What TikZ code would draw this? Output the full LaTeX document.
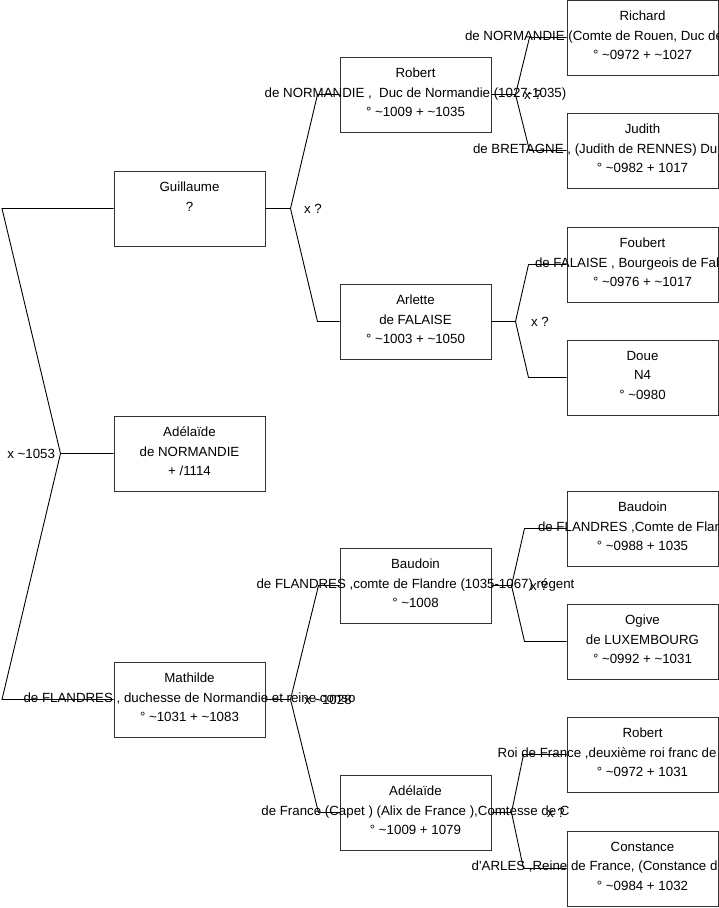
\documentclass[tikz,border=0pt]{standalone}
\usepackage{fontspec}
\setmainfont{Liberation Sans}
\newcommand{\circa}{\textasciitilde}
\newcommand{\cutline}[2]{\makebox[0pt][l]{\hspace*{-#1pt}#2}}

\begin{document}
\begin{tikzpicture}[
x=1pt, y=-1pt,
line width=1pt,
every node/.style={font=\fontsize{13.3}{19.5}\selectfont},
person/.style={draw=black!80, fill=white, minimum width=151pt, minimum height=75pt, inner sep=0pt},
info/.style={anchor=north, align=center, inner sep=0pt, execute at begin node=\strut},
union/.style={inner sep=0pt},
link/.style={draw=black, line width=0.9pt}
]
\useasboundingbox (0,0) rectangle (719,908);
\clip (0,0) rectangle (719,908);

% generation 1
\node[person] (guil) at (189.5,208.5) {};
\node[person] (adel) at (189.5,453.5) {};
\node[person] (math) at (189.5,699.5) {};
% generation 2
\node[person] (rob) at (415.5,94.5) {};
\node[person] (arl) at (415.5,321.5) {};
\node[person] (bau) at (415.5,585.5) {};
\node[person] (adf) at (415.5,812.5) {};
% generation 3
\node[person] (ric) at (642.5,37.5) {};
\node[person] (jud) at (642.5,150.5) {};
\node[person] (fou) at (642.5,264.5) {};
\node[person] (dou) at (642.5,377.5) {};
\node[person] (bau3) at (642.5,528.5) {};
\node[person] (ogi) at (642.5,641.5) {};
\node[person] (rob3) at (642.5,754.5) {};
\node[person] (con) at (642.5,868.5) {};

\node[info] (guil-t) at ([yshift=-11pt]guil.north) {Guillaume\\?};
\node[info] (adel-t) at ([yshift=-11pt]adel.north) {Adélaïde\\de NORMANDIE\\+ /1114};
\node[info] (math-t) at ([yshift=-11pt]math.north) {Mathilde\\de FLANDRES , duchesse de Normandie et reine conso\\° \circa1031 + \circa1083};

\node[info] (rob-t) at ([yshift=-11pt]rob.north) {Robert\\de NORMANDIE , \ Duc de Normandie (1027-1035)\\° \circa1009 + \circa1035};
\node[info] (arl-t) at ([yshift=-11pt]arl.north) {Arlette\\de FALAISE\\° \circa1003 + \circa1050};
\node[info] (bau-t) at ([yshift=-11pt]bau.north) {Baudoin\\de FLANDRES ,comte de Flandre (1035-1067) régent\\° \circa1008};
\node[info] (adf-t) at ([yshift=-11pt]adf.north) {Adélaïde\\de France (Capet ) (Alix de France ),Comtesse de C\\° \circa1009 + 1079};

\node[info] (ric-t) at ([yshift=-11pt]ric.north) {Richard\\ \cutline{177.5}{de NORMANDIE (Comte de Rouen, Duc de}\\° \circa0972 + \circa1027};
\node[info] (jud-t) at ([yshift=-11pt]jud.north) {Judith\\ \cutline{169.5}{de BRETAGNE , (Judith de RENNES) Du}\\° \circa0982 + 1017};
\node[info] (fou-t) at ([yshift=-11pt]fou.north) {Foubert\\ \cutline{107.5}{de FALAISE , Bourgeois de Fal}\\° \circa0976 + \circa1017};
\node[info] (dou-t) at ([yshift=-11pt]dou.north) {Doue\\N4\\° \circa0980};
\node[info] (bau3-t) at ([yshift=-11pt]bau3.north) {Baudoin\\ \cutline{104.5}{de FLANDRES ,Comte de Flan}\\° \circa0988 + 1035};
\node[info] (ogi-t) at ([yshift=-11pt]ogi.north) {Ogive\\de LUXEMBOURG\\° \circa0992 + \circa1031};
\node[info] (rob3-t) at ([yshift=-11pt]rob3.north) {Robert\\ \cutline{144.8}{Roi de France ,deuxième roi franc de}\\° \circa0972 + 1031};
\node[info] (con-t) at ([yshift=-11pt]con.north) {Constance\\ \cutline{170.8}{d\textquotesingle ARLES ,Reine de France, (Constance d}\\° \circa0984 + 1032};

% root couple
\coordinate (j0) at ([xshift=-53pt]adel.west);
\coordinate (k0) at (2,0);
\draw[link] (adel.west) -- (j0) -- (k0 |- guil.west) -- (guil.west);
\draw[link] (j0) -- (k0 |- math.west) -- (math.west);

% parents: child/father/mother/apex/end
\foreach \c/\f/\m/\s/\e in {guil/rob/arl/25/22, math/bau/adf/25/21,
  rob/ric/jud/24/37, arl/fou/dou/24/38, bau/bau3/ogi/20/42, adf/rob3/con/20/43}{
  \draw[link] (\c.east) -- ([xshift=\s pt]\c.east) coordinate (j-\c)
    -- ([xshift=-\e pt]\f.west) -- (\f.west);
  \draw[link] (j-\c) -- ([xshift=-\e pt]\m.west) -- (\m.west);
}

\node[union, anchor=east] (m0) at ([xshift=-5pt]j0) {x \circa1053};
\node[union, anchor=west] (m-guil) at ([xshift=13pt]j-guil) {x ?};
\node[union, anchor=west] (m-math) at ([xshift=13pt]j-math) {x \circa1028};
\node[union, anchor=west] (m-rob) at ([xshift=8pt]j-rob) {x ?};
\node[union, anchor=west] (m-arl) at ([xshift=15pt]j-arl) {x ?};
\node[union, anchor=west] (m-bau) at ([xshift=18pt]j-bau) {x ?};
\node[union, anchor=west] (m-adf) at ([xshift=35pt]j-adf) {x ?};
\end{tikzpicture}
\end{document}
